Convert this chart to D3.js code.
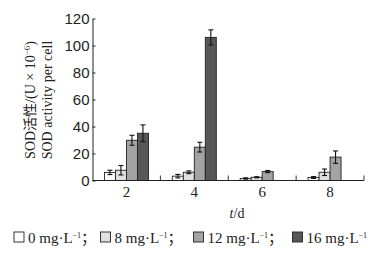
<!DOCTYPE html>
<html>
<head>
<meta charset="utf-8">
<script src="https://cdn.jsdelivr.net/npm/d3@7"></script>
<style>
	body { margin: 0; background: #fff; }
	svg { display: block; font-family: "Liberation Serif", "Noto Sans CJK SC", serif; }
	.tick-label { font-size: 15px; fill: #222; }
	.title { font-size: 14px; fill: #222; }
	.legend-text { font-size: 15px; fill: #222; }
</style>
</head>
<body>
<svg id="plot"></svg>
<script>
const WIDTH = 385;
const HEIGHT = 253;

const days = ["2", "4", "6", "8"];
const seriesNames = ["0", "8", "12", "16"];
const seriesColors = ["#ffffff", "#e0e0e0", "#a3a3a3", "#575757"];
const values0 = [6.0, 3.2, 1.5, 2.2];
const errors0 = [1.6, 1.3, 0.5, 0.7];
const values8 = [7.6, 6.1, 2.4, 6.1];
const errors8 = [3.5, 1.0, 0.4, 2.4];
const values12 = [29.8, 24.7, 6.6, 17.3];
const errors12 = [3.7, 3.6, 0.8, 4.6];
const values16 = [35.0, 106.0, null, null];
const errors16 = [6.2, 5.6, null, null];
const yTicks = [0, 20, 40, 60, 80, 100, 120];

const allValues = [values0, values8, values12, values16];
const allErrors = [errors0, errors8, errors12, errors16];

const plot = d3.select("#plot").attr("width", WIDTH).attr("height", HEIGHT);

const xScale = d3.scaleBand(days, [92.5, 364]).paddingInner(0).paddingOuter(0);
const groupWidth = 44;
const innerScale = d3.scaleBand(seriesNames, [0, groupWidth]);
const yScale = d3.scaleLinear([0, 120], [180.5, 18.5]);

// bars
const barData = [];
days.forEach((day, i) => {
	seriesNames.forEach((s, j) => {
		const v = allValues[j][i];
		if (v == null) return;
		barData.push({ day, s, j, v, err: allErrors[j][i] });
	});
});

const offset = (xScale.bandwidth() - groupWidth) / 2;
const bars = plot.append("g");
bars.selectAll("rect")
	.data(barData)
	.join("rect")
	.attr("x", d => xScale(d.day) + offset + innerScale(d.s))
	.attr("y", d => yScale(d.v))
	.attr("width", innerScale.bandwidth())
	.attr("height", d => yScale(0) - yScale(d.v))
	.attr("fill", d => seriesColors[d.j])
	.attr("stroke", "#222")
	.attr("stroke-width", 0.9);

// error bars
const capHalf = 2.5;
const errG = plot.append("g").attr("stroke", "#111").attr("stroke-width", 1.1);
barData.forEach(d => {
	const cx = xScale(d.day) + offset + innerScale(d.s) + innerScale.bandwidth() / 2;
	const y1 = yScale(d.v + d.err);
	const y2 = yScale(Math.max(0, d.v - d.err));
	errG.append("line").attr("x1", cx).attr("x2", cx).attr("y1", y1).attr("y2", y2);
	errG.append("line").attr("x1", cx - capHalf).attr("x2", cx + capHalf).attr("y1", y1).attr("y2", y1);
	errG.append("line").attr("x1", cx - capHalf).attr("x2", cx + capHalf).attr("y1", y2).attr("y2", y2);
});

// y axis
const yAxis = plot.append("g")
	.attr("transform", `translate(${xScale.range()[0]},0)`)
	.call(d3.axisLeft(yScale).tickValues(yTicks).tickSizeInner(-3).tickSizeOuter(0).tickPadding(3));
yAxis.select(".domain").attr("stroke", "#222");
yAxis.selectAll(".tick line").attr("stroke", "#222");
yAxis.selectAll(".tick text").attr("class", "tick-label").attr("font-family", null).attr("font-size", null);

// x axis
const x0 = xScale.range()[0];
const x1 = xScale.range()[1];
const yBase = yScale(0);
plot.append("line")
	.attr("x1", x0).attr("x2", x1).attr("y1", yBase).attr("y2", yBase)
	.attr("stroke", "#222").attr("stroke-width", 1);
plot.append("g").selectAll("line")
	.data(days)
	.join("line")
	.attr("x1", d => xScale(d) + xScale.bandwidth())
	.attr("x2", d => xScale(d) + xScale.bandwidth())
	.attr("y1", yBase)
	.attr("y2", yBase - 5)
	.attr("stroke", "#333");
plot.append("g").selectAll("text")
	.data(days)
	.join("text")
	.attr("class", "tick-label")
	.attr("x", d => xScale(d) + xScale.bandwidth() / 2)
	.attr("y", 197)
	.attr("text-anchor", "middle")
	.text(d => d);

// x title
const xt = plot.append("text").attr("class", "title").attr("x", 237).attr("y", 218).attr("text-anchor", "middle");
xt.append("tspan").attr("font-style", "italic").text("t");
xt.append("tspan").text("/d");

// y title
const yt1 = plot.append("text").attr("class", "title")
	.attr("transform", "translate(35,100) rotate(-90)").attr("text-anchor", "middle");
yt1.append("tspan").text("SOD活性/(U × 10");
yt1.append("tspan").attr("dy", -5).attr("font-size", 9).text("−6");
yt1.append("tspan").attr("dy", 5).text(")");
plot.append("text").attr("class", "title")
	.attr("transform", "translate(52,100) rotate(-90)").attr("text-anchor", "middle")
	.text("SOD activity per cell");

// legend
const legendX = [14, 100.5, 193.5, 292.5];
const legend = plot.append("g");
seriesNames.forEach((s, j) => {
	const g = legend.append("g").attr("transform", `translate(${legendX[j]},232)`);
	g.append("rect").attr("width", 10).attr("height", 10)
		.attr("fill", seriesColors[j]).attr("stroke", "#222").attr("stroke-width", 0.9);
	const t = g.append("text").attr("class", "legend-text").attr("x", 14).attr("y", 10.5);
	t.append("tspan").text(`${s} mg·L`);
	t.append("tspan").attr("dy", -5).attr("font-size", 8).text("−1");
	t.append("tspan").attr("dy", 5).text(j < 3 ? "；" : "");
});
</script>
</body>
</html>
